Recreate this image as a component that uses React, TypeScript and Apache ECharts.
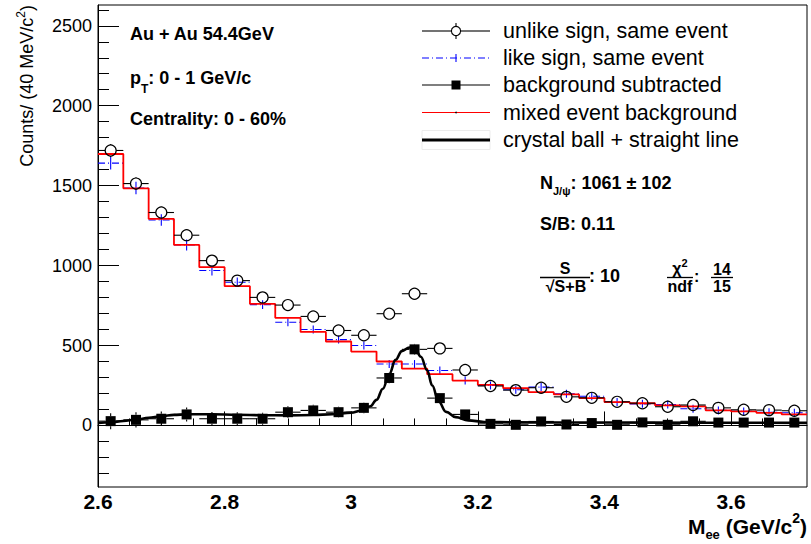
import React, { useEffect, useRef } from "react";
import * as echarts from "echarts";

// ---- data ----
const massBins = [2.62, 2.66, 2.7, 2.74, 2.78, 2.82, 2.86, 2.9, 2.94, 2.98, 3.02, 3.06, 3.1, 3.14, 3.18, 3.22, 3.26, 3.3, 3.34, 3.38, 3.42, 3.46, 3.5, 3.54, 3.58, 3.62, 3.66, 3.7];
const binWidth = 0.04;
const unlikeSign = [1720, 1513, 1332, 1190, 1031, 906, 801, 753, 682, 594, 564, 699, 824, 482, 347, 247, 221, 236, 179, 173, 148, 139, 117, 128, 110, 98, 96, 92];
const unlikeErr = [41, 39, 36, 34, 32, 30, 28, 27, 26, 24, 24, 26, 29, 22, 19, 16, 15, 15, 13, 13, 12, 12, 11, 11, 10, 10, 10, 10];
const likeSign = [1641, 1485, 1285, 1129, 969, 896, 756, 646, 600, 537, 500, 384, 384, 344, 281, 250, 223, 240, 198, 183, 146, 135, 131, 104, 94, 88, 83, 79];
const likeErr = [40, 39, 36, 34, 31, 30, 27, 25, 24, 23, 22, 20, 20, 19, 17, 16, 15, 15, 14, 14, 12, 12, 11, 10, 10, 9, 9, 9];
const mixedBackground = [1698, 1483, 1292, 1129, 990, 871, 760, 673, 585, 525, 462, 400, 356, 321, 281, 254, 233, 208, 194, 171, 146, 139, 125, 119, 94, 88, 79, 69];
const bgSubtracted = [27, 35, 42, 69, 42, 42, 42, 83, 94, 83, 110, 297, 476, 171, 69, 10, 4, 25, 6, 15, 4, 19, 4, 26, 18, 18, 18, 18];
const bgSubErr = [50, 48, 46, 44, 42, 40, 38, 37, 35, 34, 33, 33, 34, 30, 26, 22, 21, 21, 19, 19, 17, 16, 16, 15, 15, 14, 14, 14];
const fitMass = [2.6, 2.62, 2.64, 2.66, 2.68, 2.7, 2.72, 2.74, 2.78, 2.82, 2.86, 2.9, 2.94, 2.97, 3.0, 3.015, 3.03, 3.04, 3.05, 3.06, 3.07, 3.08, 3.092, 3.102, 3.11, 3.12, 3.128, 3.138, 3.15, 3.165, 3.185, 3.21, 3.26, 3.4, 3.55, 3.72];
const fitCounts = [15, 20, 28, 37, 48, 58, 66, 70, 70, 67, 64, 63, 65, 70, 80, 92, 120, 160, 230, 320, 410, 465, 488, 470, 430, 345, 250, 150, 85, 52, 32, 22, 19, 18, 17, 16];
const xMajorTicks = [2.6, 2.8, 3.0, 3.2, 3.4, 3.6];
const xMinorTicks = [2.65, 2.7, 2.75, 2.85, 2.9, 2.95, 3.05, 3.1, 3.15, 3.25, 3.3, 3.35, 3.45, 3.5, 3.55, 3.65, 3.7];
const yMajorTicks = [0, 500, 1000, 1500, 2000, 2500];
const yMinorTicks = [-300, -200, -100, 100, 200, 300, 400, 600, 700, 800, 900, 1100, 1200, 1300, 1400, 1600, 1700, 1800, 1900, 2100, 2200, 2300, 2400, 2600];
const xRange = [2.6, 3.72];
const yRange = [-385, 2630];

const FONT = "'Liberation Sans', Arial, Helvetica, sans-serif";

function errRender(gap: number, color: string, horizDash: number[] | null, minV: number) {
  return (params: any, api: any) => {
    const x = api.value(0);
    const y = api.value(1);
    const e = api.value(2);
    const c = api.coord([x, y]);
    const l = api.coord([x - binWidth / 2, y]);
    const r = api.coord([x + binWidth / 2, y]);
    const t = api.coord([x, y + e]);
    const b = api.coord([x, y - e]);
    const st = { stroke: color, lineWidth: 1.1 };
    const hs = { stroke: color, lineWidth: 1.1, lineDash: horizDash || undefined };
    const children: any[] = [];
    if (gap > 0) {
      children.push({ type: "line", shape: { x1: l[0], y1: c[1], x2: c[0] - gap, y2: c[1] }, style: hs });
      children.push({ type: "line", shape: { x1: c[0] + gap, y1: c[1], x2: r[0], y2: c[1] }, style: hs });
      if (c[1] - t[1] > gap) children.push({ type: "line", shape: { x1: c[0], y1: c[1] - gap, x2: c[0], y2: t[1] }, style: st });
      if (b[1] - c[1] > gap) children.push({ type: "line", shape: { x1: c[0], y1: c[1] + gap, x2: c[0], y2: b[1] }, style: st });
    } else {
      children.push({ type: "line", shape: { x1: l[0], y1: c[1], x2: r[0], y2: c[1] }, style: hs });
      const up = Math.max(c[1] - t[1], minV);
      const dn = Math.max(b[1] - c[1], minV);
      children.push({ type: "line", shape: { x1: c[0], y1: c[1] - up, x2: c[0], y2: c[1] + dn }, style: st });
    }
    return { type: "group", children };
  };
}

export default function App() {
  const ref = useRef<HTMLDivElement>(null);
  useEffect(() => {
    if (!ref.current) return;
    const chart = echarts.init(ref.current, null, { renderer: "svg" });

    const stepData: number[][] = [];
    massBins.forEach((m, i) => {
      stepData.push([m - binWidth / 2, mixedBackground[i]]);
      stepData.push([m + binWidth / 2, mixedBackground[i]]);
    });
    const unlikeData = massBins.map((m, i) => [m, unlikeSign[i], unlikeErr[i]]);
    const likeData = massBins.map((m, i) => [m, likeSign[i], likeErr[i]]);
    const bgData = massBins.map((m, i) => [m, bgSubtracted[i], bgSubErr[i]]);
    const fitData = fitMass.map((m, i) => [m, fitCounts[i]]);

    const gridBox = { left: 98, right: 4, top: 5, bottom: 57 };
    const blk = "#000";
    const subStyle = (size: number, bold: boolean) => ({ fontSize: size, fontWeight: bold ? "bold" : "normal", fontFamily: FONT, fill: blk, verticalAlign: "bottom", lineHeight: size });
    const supStyle = (size: number, bold: boolean) => ({ fontSize: size, fontWeight: bold ? "bold" : "normal", fontFamily: FONT, fill: blk, verticalAlign: "top", lineHeight: size });

    const txt = (x: number, y: number, text: string, size: number, weight: string, extra: any = {}) => ({
      type: "text",
      x,
      y,
      z: 100,
      style: {
        text,
        fontSize: size,
        fontWeight: weight,
        fontFamily: FONT,
        fill: blk,
        align: "left",
        verticalAlign: "middle",
        ...extra,
      },
    });
    const ln = (x1: number, y1: number, x2: number, y2: number, stroke: string, lineWidth: number, lineDash?: number[]) => ({
      type: "line",
      z: 100,
      shape: { x1, y1, x2, y2 },
      style: { stroke, lineWidth, lineDash },
    });

    const legendX1 = 422;
    const legendX2 = 490;
    const legendMid = 456;
    const legendTextX = 503;
    const rows = [31, 58, 85, 112.5, 140];

    const option: any = {
      animation: false,
      backgroundColor: "#fff",
      grid: [
        { ...gridBox, show: true, borderColor: blk, borderWidth: 1, backgroundColor: "transparent" },
        { ...gridBox, show: false },
      ],
      xAxis: [
        {
          type: "value",
          gridIndex: 0,
          min: xRange[0],
          max: xRange[1],
          axisLine: { show: true, lineStyle: { color: blk, width: 1 } },
          axisTick: { show: true, inside: true, length: 14, lineStyle: { color: blk, width: 1 }, customValues: xMajorTicks },
          axisLabel: { customValues: xMajorTicks, fontFamily: FONT, fontWeight: "bold", fontSize: 21, color: blk, margin: 4, formatter: (v: number) => String(Math.round(v * 10) / 10) },
          splitLine: { show: false },
        },
        {
          type: "value",
          gridIndex: 1,
          min: xRange[0],
          max: xRange[1],
          axisLine: { show: false },
          axisTick: { show: true, inside: true, length: 7, lineStyle: { color: blk, width: 1 }, customValues: xMinorTicks },
          axisLabel: { show: false },
          splitLine: { show: false },
        },
      ],
      yAxis: [
        {
          type: "value",
          gridIndex: 0,
          min: yRange[0],
          max: yRange[1],
          axisLine: { show: true, lineStyle: { color: blk, width: 1 } },
          axisTick: { show: true, inside: true, length: 21, lineStyle: { color: blk, width: 1 }, customValues: yMajorTicks },
          axisLabel: { customValues: yMajorTicks, fontFamily: FONT, fontSize: 18, color: blk, margin: 6, formatter: (v: number) => String(Math.round(v)) },
          splitLine: { show: false },
        },
        {
          type: "value",
          gridIndex: 1,
          min: yRange[0],
          max: yRange[1],
          axisLine: { show: false },
          axisTick: { show: true, inside: true, length: 11, lineStyle: { color: blk, width: 1 }, customValues: yMinorTicks },
          axisLabel: { show: false },
          splitLine: { show: false },
        },
      ],
      series: [
        {
          name: "like sign, same event",
          type: "custom",
          xAxisIndex: 0,
          yAxisIndex: 0,
          renderItem: errRender(0, "#0000ff", [7, 3, 1, 3], 4),
          data: likeData,
          encode: { x: 0, y: 1 },
          z: 2,
        },
        {
          name: "mixed event background",
          type: "line",
          xAxisIndex: 0,
          yAxisIndex: 0,
          data: stepData,
          symbol: "none",
          lineStyle: { color: "#ff0000", width: 1.8 },
          z: 3,
        },
        {
          name: "unlike sign, same event (errors)",
          type: "custom",
          renderItem: errRender(5.5, blk, null, 0),
          data: unlikeData,
          encode: { x: 0, y: 1 },
          z: 4,
        },
        {
          name: "unlike sign, same event",
          type: "scatter",
          data: unlikeData.map((d) => [d[0], d[1]]),
          symbol: "circle",
          symbolSize: 11,
          itemStyle: { color: "rgba(0,0,0,0)", borderColor: blk, borderWidth: 1.2, opacity: 1 },
          z: 5,
        },
        {
          name: "background subtracted (errors)",
          type: "custom",
          renderItem: errRender(5, blk, null, 0),
          data: bgData,
          encode: { x: 0, y: 1 },
          z: 6,
        },
        {
          name: "background subtracted",
          type: "scatter",
          data: bgData.map((d) => [d[0], d[1]]),
          symbol: "rect",
          symbolSize: 10,
          itemStyle: { color: blk, opacity: 1 },
          z: 7,
        },
        {
          name: "crystal ball + straight line",
          type: "line",
          data: fitData,
          symbol: "none",
          smooth: 0.4,
          smoothMonotone: "x",
          lineStyle: { color: blk, width: 2.6 },
          z: 8,
        },
      ],
      graphic: {
        elements: [
          // axis titles
          {
            type: "text",
            x: 27,
            y: 5,
            rotation: Math.PI / 2,
            z: 100,
            style: {
              text: "Counts/ (40 MeV/c{sup|2})",
              fontSize: 18,
              fontFamily: FONT,
              fill: blk,
              align: "right",
              verticalAlign: "middle",
              lineHeight: 24,
              rich: { sup: supStyle(12, false) },
            },
          },
          {
            type: "text",
            x: 807,
            y: 526,
            z: 100,
            style: {
              text: "M{sub|ee} (GeV/c{sup|2})",
              fontSize: 21,
              fontWeight: "bold",
              fontFamily: FONT,
              fill: blk,
              align: "right",
              verticalAlign: "middle",
              lineHeight: 30,
              rich: { sub: subStyle(13, true), sup: supStyle(14, true) },
            },
          },
          // left annotations
          txt(130, 34, "Au + Au 54.4GeV", 18, "bold"),
          txt(130, 77.5, "p{sub|T}: 0 - 1 GeV/c", 18, "bold", { lineHeight: 34, rich: { sub: subStyle(12, true) } }),
          txt(130, 119, "Centrality: 0 - 60%", 18, "bold"),
          // right annotations
          txt(540, 183, "N{sub|J/ψ}: 1061 ± 102", 18, "bold", { lineHeight: 26, rich: { sub: subStyle(11, true) } }),
          txt(540, 223.5, "S/B: 0.11", 18, "bold"),
          txt(565, 268, "S", 16, "bold", { align: "center" }),
          ln(540, 277.5, 590, 277.5, blk, 1.3),
          txt(566, 286, "√S+B", 16, "bold", { align: "center" }),
          txt(589, 276, ": 10", 18, "bold"),
          txt(680, 268, "χ{sup|2}", 16, "bold", { align: "center", lineHeight: 22, rich: { sup: supStyle(11, true) } }),
          ln(667, 277.5, 693, 277.5, blk, 1.3),
          txt(680, 286, "ndf", 16, "bold", { align: "center" }),
          txt(694, 276, ":", 16, "bold"),
          txt(722, 269, "14", 16, "bold", { align: "center" }),
          ln(711, 277.5, 733, 277.5, blk, 1.3),
          txt(722, 286, "15", 16, "bold", { align: "center" }),
          // legend
          ln(legendX1, rows[0], legendMid - 5, rows[0], blk, 1.1),
          ln(legendMid + 5, rows[0], legendX2, rows[0], blk, 1.1),
          ln(legendMid, rows[0] - 8, legendMid, rows[0] - 5, blk, 1.1),
          ln(legendMid, rows[0] + 5, legendMid, rows[0] + 8, blk, 1.1),
          { type: "circle", z: 100, shape: { cx: legendMid, cy: rows[0], r: 4.6 }, style: { fill: "none", stroke: blk, lineWidth: 1.1 } },
          txt(legendTextX, rows[0], "unlike sign, same event", 21.5, "normal"),
          ln(legendX1, rows[1], legendX2, rows[1], "#0000ff", 1.1, [7, 3, 1, 3]),
          ln(legendMid, rows[1] - 4, legendMid, rows[1] + 4, "#0000ff", 1.1),
          txt(legendTextX, rows[1], "like sign, same event", 21.5, "normal"),
          ln(legendX1, rows[2], legendX2, rows[2], blk, 1.1),
          { type: "rect", z: 100, shape: { x: legendMid - 4.5, y: rows[2] - 4.5, width: 9, height: 9 }, style: { fill: blk } },
          txt(legendTextX, rows[2], "background subtracted", 21.5, "normal"),
          ln(legendX1, rows[3], legendX2, rows[3], "#ff0000", 1.2),
          { type: "circle", z: 101, shape: { cx: legendMid, cy: rows[3], r: 0.8 }, style: { fill: blk } },
          txt(legendTextX, rows[3], "mixed event background", 21.5, "normal"),
          { type: "rect", z: 99, shape: { x: legendX1, y: rows[4] - 9.5, width: legendX2 - legendX1, height: 19 }, style: { fill: "none", stroke: "#ececec", lineWidth: 1 } },
          ln(legendX1, rows[4], legendX2, rows[4], blk, 3),
          txt(legendTextX, rows[4], "crystal ball + straight line", 21.5, "normal"),
        ],
      },
    };
    chart.setOption(option);
    return () => chart.dispose();
  }, []);
  return <div ref={ref} style={{ position: "absolute", left: 0, top: 0, width: 811, height: 544 }} />;
}
